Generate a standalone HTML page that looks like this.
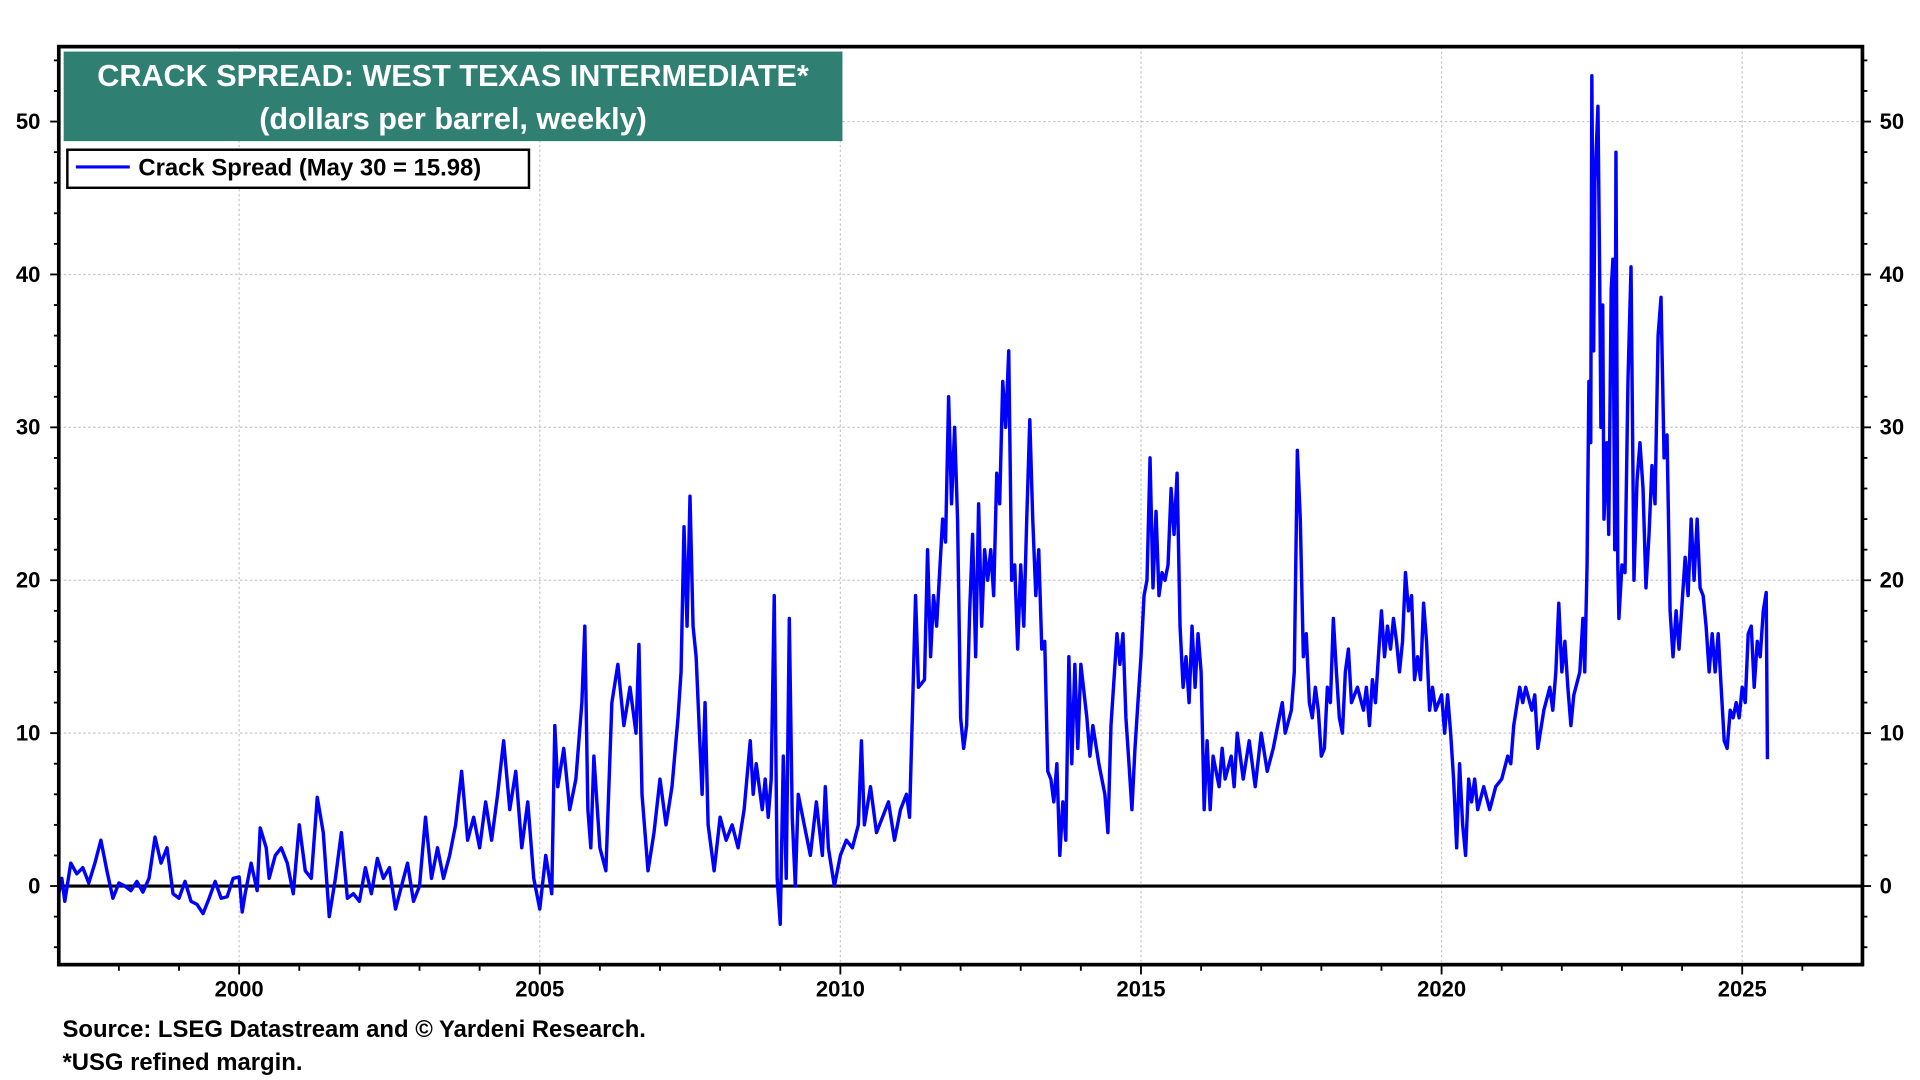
<!DOCTYPE html>
<html><head><meta charset="utf-8"><style>
html,body{margin:0;padding:0;background:#fff;width:1920px;height:1080px;overflow:hidden}
svg{display:block;font-family:"Liberation Sans",Arial,sans-serif}
</style></head><body>
<svg id="chart" width="1920" height="1080" viewBox="0 0 1568 880" preserveAspectRatio="none" xmlns="http://www.w3.org/2000/svg">
<rect x="0" y="0" width="1568" height="880" fill="#fff"/>
<g id="grid"></g>
<g id="axes"></g>
<g id="series"></g>
<rect x="48" y="38" width="1473" height="748" fill="none" stroke="#000" stroke-width="3"/>
<g>
<rect x="52" y="42" width="636" height="73" fill="#2f7f72"/>
<text x="370" y="70" text-anchor="middle" fill="#fff" font-weight="bold" font-size="25">CRACK SPREAD: WEST TEXAS INTERMEDIATE*</text>
<text x="370" y="105" text-anchor="middle" fill="#fff" font-weight="bold" font-size="25">(dollars per barrel, weekly)</text>
</g>
<g>
<rect x="55" y="122" width="377" height="31" fill="#fff" stroke="#000" stroke-width="2"/>
<line x1="62" y1="136" x2="106" y2="136" stroke="#0000ff" stroke-width="2.5"/>
<text x="113" y="143" font-weight="bold" font-size="19.5">Crack Spread (May 30 = 15.98)</text>
</g>
<text x="51" y="845" font-weight="bold" font-size="19.5">Source: LSEG Datastream and © Yardeni Research.</text>
<text x="51" y="872" font-weight="bold" font-size="19.5">*USG refined margin.</text>
</svg>
<script>
const dates = [1997.0,1997.05,1997.1,1997.2,1997.3,1997.4,1997.5,1997.6,1997.7,1997.8,1997.9,1998.0,1998.1,1998.2,1998.3,1998.4,1998.5,1998.6,1998.7,1998.8,1998.9,1999.0,1999.1,1999.2,1999.3,1999.4,1999.5,1999.6,1999.7,1999.8,1999.9,2000.0,2000.05,2000.1,2000.2,2000.3,2000.35,2000.45,2000.5,2000.6,2000.7,2000.8,2000.9,2001.0,2001.1,2001.2,2001.3,2001.4,2001.5,2001.6,2001.7,2001.8,2001.9,2002.0,2002.1,2002.2,2002.3,2002.4,2002.5,2002.6,2002.7,2002.8,2002.9,2003.0,2003.1,2003.2,2003.3,2003.4,2003.5,2003.6,2003.7,2003.8,2003.9,2004.0,2004.1,2004.2,2004.3,2004.4,2004.5,2004.6,2004.7,2004.8,2004.9,2005.0,2005.1,2005.2,2005.25,2005.3,2005.4,2005.5,2005.6,2005.7,2005.75,2005.8,2005.85,2005.9,2006.0,2006.1,2006.2,2006.3,2006.4,2006.5,2006.6,2006.65,2006.7,2006.8,2006.9,2007.0,2007.1,2007.2,2007.3,2007.35,2007.4,2007.45,2007.5,2007.55,2007.6,2007.7,2007.75,2007.8,2007.9,2008.0,2008.1,2008.2,2008.3,2008.4,2008.5,2008.55,2008.6,2008.7,2008.75,2008.8,2008.85,2008.9,2008.95,2009.0,2009.05,2009.1,2009.15,2009.2,2009.25,2009.3,2009.4,2009.5,2009.6,2009.7,2009.75,2009.8,2009.9,2010.0,2010.1,2010.2,2010.3,2010.35,2010.4,2010.5,2010.6,2010.7,2010.8,2010.9,2011.0,2011.1,2011.15,2011.2,2011.25,2011.3,2011.4,2011.45,2011.5,2011.55,2011.6,2011.7,2011.75,2011.8,2011.85,2011.9,2011.95,2012.0,2012.05,2012.1,2012.15,2012.2,2012.25,2012.3,2012.35,2012.4,2012.45,2012.5,2012.55,2012.6,2012.65,2012.7,2012.75,2012.8,2012.85,2012.9,2012.95,2013.0,2013.05,2013.1,2013.15,2013.2,2013.25,2013.3,2013.35,2013.4,2013.45,2013.5,2013.55,2013.6,2013.65,2013.7,2013.75,2013.8,2013.85,2013.9,2013.95,2014.0,2014.1,2014.15,2014.2,2014.3,2014.4,2014.45,2014.5,2014.6,2014.65,2014.7,2014.75,2014.8,2014.85,2014.9,2014.95,2015.0,2015.05,2015.1,2015.15,2015.2,2015.25,2015.3,2015.35,2015.4,2015.45,2015.5,2015.55,2015.6,2015.65,2015.7,2015.75,2015.8,2015.85,2015.9,2015.95,2016.0,2016.05,2016.1,2016.15,2016.2,2016.3,2016.35,2016.4,2016.5,2016.55,2016.6,2016.7,2016.8,2016.9,2017.0,2017.1,2017.2,2017.3,2017.35,2017.4,2017.5,2017.55,2017.6,2017.65,2017.7,2017.75,2017.8,2017.85,2017.9,2017.95,2018.0,2018.05,2018.1,2018.15,2018.2,2018.25,2018.3,2018.35,2018.4,2018.45,2018.5,2018.6,2018.7,2018.75,2018.8,2018.85,2018.9,2018.95,2019.0,2019.05,2019.1,2019.15,2019.2,2019.25,2019.3,2019.35,2019.4,2019.45,2019.5,2019.55,2019.6,2019.65,2019.7,2019.75,2019.8,2019.85,2019.9,2020.0,2020.05,2020.1,2020.15,2020.2,2020.25,2020.3,2020.35,2020.4,2020.45,2020.5,2020.55,2020.6,2020.7,2020.8,2020.9,2021.0,2021.1,2021.15,2021.2,2021.3,2021.35,2021.4,2021.5,2021.55,2021.6,2021.7,2021.8,2021.85,2021.9,2021.95,2022.0,2022.05,2022.1,2022.15,2022.2,2022.3,2022.35,2022.38,2022.42,2022.45,2022.48,2022.5,2022.53,2022.55,2022.6,2022.63,2022.65,2022.68,2022.7,2022.75,2022.78,2022.82,2022.85,2022.88,2022.9,2022.93,2022.95,2023.0,2023.05,2023.1,2023.15,2023.2,2023.25,2023.3,2023.35,2023.4,2023.45,2023.5,2023.55,2023.6,2023.65,2023.7,2023.75,2023.8,2023.85,2023.9,2023.95,2024.0,2024.05,2024.1,2024.15,2024.2,2024.25,2024.3,2024.35,2024.4,2024.45,2024.5,2024.55,2024.6,2024.65,2024.7,2024.75,2024.8,2024.85,2024.9,2024.95,2025.0,2025.05,2025.1,2025.15,2025.2,2025.25,2025.3,2025.35,2025.4,2025.42];
const spreadValues = [-0.5,0.5,-1,1.5,0.8,1.2,0.2,1.5,3.0,1.0,-0.8,0.2,0,-0.3,0.3,-0.4,0.5,3.2,1.5,2.5,-0.5,-0.8,0.3,-1,-1.2,-1.8,-0.8,0.3,-0.8,-0.7,0.5,0.6,-1.7,-0.5,1.5,-0.3,3.8,2.5,0.5,2.0,2.5,1.5,-0.5,4.0,1.0,0.5,5.8,3.5,-2.0,0.5,3.5,-0.8,-0.5,-1,1.2,-0.5,1.8,0.5,1.2,-1.5,0.0,1.5,-1.0,0.0,4.5,0.5,2.5,0.5,2.0,4.0,7.5,3.0,4.5,2.5,5.5,3.0,6.0,9.5,5.0,7.5,2.5,5.5,0.5,-1.5,2.0,-0.5,10.5,6.5,9.0,5.0,7.0,12.0,17.0,5.0,2.5,8.5,2.5,1.0,12.0,14.5,10.5,13.0,10.0,15.8,6.0,1.0,3.5,7.0,4.0,6.5,11.0,14.0,23.5,17.0,25.5,17.0,15.0,6.0,12.0,4.0,1.0,4.5,3.0,4.0,2.5,5.0,9.5,6.0,8.0,5.0,7.0,4.5,7.0,19.0,0.5,-2.5,8.5,0.5,17.5,4.5,0,6.0,4.0,2.0,5.5,2.0,6.5,2.5,0,2.0,3.0,2.5,4.0,9.5,4.0,6.5,3.5,4.5,5.5,3.0,5.0,6.0,4.5,11.5,19.0,13.0,13.5,22.0,15.0,19.0,17.0,24.0,22.5,32.0,25.0,30.0,24.0,11.0,9.0,10.5,18.0,23.0,15.0,25.0,17.0,22.0,20.0,22.0,19.0,27.0,25.0,33.0,30.0,35.0,20.0,21.0,15.5,21.0,17.0,24.0,30.5,24.0,19.0,22.0,15.5,16.0,7.5,7.0,5.5,8.0,2.0,5.5,3.0,15.0,8.0,14.5,9.0,14.5,11.0,8.5,10.5,8.0,6.0,3.5,10.5,16.5,14.5,16.5,11.0,8.0,5.0,9.0,12.0,15.0,19.0,20.0,28.0,19.5,24.5,19.0,20.5,20.0,21.0,26.0,23.0,27.0,17.0,13.0,15.0,12.0,17.0,13.0,16.5,14.0,5.0,9.5,5.0,8.5,6.5,9.0,7.0,8.5,6.5,10.0,7.0,9.5,6.5,10.0,7.5,9.0,11.0,12.0,10.0,11.5,14.0,28.5,24.0,15.0,16.5,12.0,11.0,13.0,11.5,8.5,9.0,13.0,12.0,17.5,14.0,11.0,10.0,14.0,15.5,12.0,13.0,11.5,13.0,10.5,13.5,12.0,15.0,18.0,15.0,17.0,15.5,17.5,16.0,14.0,16.0,20.5,18.0,19.0,13.5,15.0,13.5,18.5,16.0,11.5,13.0,11.5,12.5,10.0,12.5,10.0,7.0,2.5,8.0,4.0,2.0,7.0,5.5,7.0,5.0,6.5,5.0,6.5,7.0,8.5,8.0,10.5,13.0,12.0,13.0,11.5,12.5,9.0,11.5,13.0,11.5,14.0,18.5,14.0,16.0,13.0,10.5,12.5,14.0,17.5,14.0,21.0,33.0,29.0,53.0,35.0,46.0,51.0,40.0,30.0,38.0,24.0,29.0,23.0,39.0,41.0,22.0,48.0,21.0,17.5,21.0,20.5,33.0,40.5,20.0,26.5,29.0,26.0,19.5,23.0,27.5,25.0,36.0,38.5,28.0,29.5,18.0,15.0,18.0,15.5,18.5,21.5,19.0,24.0,20.0,24.0,19.5,19.0,17.0,14.0,16.5,14.0,16.5,13.0,9.5,9.0,11.5,11.0,12.0,11.0,13.0,12.0,16.5,17.0,13.0,16.0,15.0,18.0,19.2,8.3];
const yTicks = [0,10,20,30,40,50];
const xTickYears = [2000,2005,2010,2015,2020,2025];

const NS = "http://www.w3.org/2000/svg";
const L = 48, R = 1521, T = 38, B = 786;
const X0 = 1997.0, X1 = 2027.0, Y0 = -5.14, Y1 = 54.9;
function xs(v){ return L + (v - X0) / (X1 - X0) * (R - L); }
function ys(v){ return B - (v - Y0) / (Y1 - Y0) * (B - T); }
function mk(tag, attrs, parent){ const e = document.createElementNS(NS, tag); for (const k in attrs) e.setAttribute(k, attrs[k]); parent.appendChild(e); return e; }
const grid = document.getElementById('grid'), axes = document.getElementById('axes'), series = document.getElementById('series');

yTicks.forEach(function(t){
  const y = ys(t);
  if (t !== 0) {
    const g = mk('line', {x1:L, x2:R, y1:y, y2:y, stroke:'#c8c8c8', 'stroke-width':1, 'stroke-dasharray':'2,2'}, grid);
    
    
  }
  const a = mk('text', {x:33, y:y+6, 'text-anchor':'end', 'font-size':18, 'font-weight':'bold'}, axes);
  a.textContent = t;
  
  
  const b = mk('text', {x:1535, y:y+6, 'text-anchor':'start', 'font-size':18, 'font-weight':'bold'}, axes);
  b.textContent = t;
  
  
});
for (let v = -4; v <= 54; v += 2) {
  const y = ys(v);
  const len = (v % 10 === 0) ? 7 : 4;
  mk('line', {x1:L-len, x2:L, y1:y, y2:y, stroke:'#000', 'stroke-width':1.5}, axes);
  mk('line', {x1:R, x2:R+len, y1:y, y2:y, stroke:'#000', 'stroke-width':1.5}, axes);
}
xTickYears.forEach(function(t){
  const x = xs(t);
  const g = mk('line', {x1:x, x2:x, y1:T, y2:B, stroke:'#c8c8c8', 'stroke-width':1, 'stroke-dasharray':'2,2'}, grid);
  
  
  const a = mk('text', {x:x, y:812, 'text-anchor':'middle', 'font-size':18, 'font-weight':'bold'}, axes);
  a.textContent = t;
  
  
});
for (let yr = 1998; yr <= 2026; yr++) {
  const x = xs(yr);
  const len = (yr % 5 === 0) ? 8 : 5;
  mk('line', {x1:x, x2:x, y1:B, y2:B+len, stroke:'#000', 'stroke-width':1.5}, axes);
}
const zl = mk('line', {x1:L, x2:R, y1:ys(0), y2:ys(0), stroke:'#000', 'stroke-width':2.5}, axes);



let d = '';
dates.forEach(function(t, i){ d += (i ? 'L' : 'M') + xs(t).toFixed(1) + ',' + ys(spreadValues[i]).toFixed(1); });
const p = mk('path', {d:d, fill:'none', stroke:'#0000ff', 'stroke-width':2.8, 'stroke-linejoin':'round'}, series);


</script>
</body></html>
